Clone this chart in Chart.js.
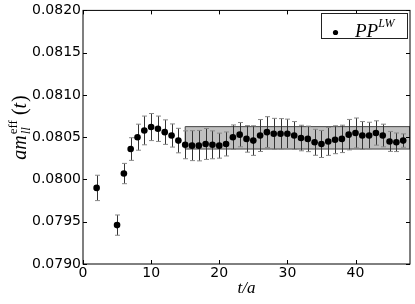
<!DOCTYPE html>
<html>
<head>
<meta charset="utf-8">
<script src="https://cdn.jsdelivr.net/npm/chart.js@4"></script>
<style>
  body { margin: 0; background: #fff; }
  #wrap { width: 415px; height: 304px; }
</style>
</head>
<body>
<div id="wrap"><canvas id="chart" width="415" height="304"></canvas></div>
<script>
// effective mass data
const ts = [2, 5, 6, 7, 8, 9, 10, 11, 12, 13, 14, 15, 16, 17, 18, 19, 20, 21, 22, 23, 24, 25,
  26, 27, 28, 29, 30, 31, 32, 33, 34, 35, 36, 37, 38, 39, 40, 41, 42, 43, 44, 45, 46, 47];
const mEff = [0.07990, 0.07946, 0.08007, 0.08036, 0.08050, 0.08058, 0.08062, 0.08060, 0.08056,
  0.08052, 0.08046, 0.08041, 0.08040, 0.08040, 0.08042, 0.08041, 0.08040, 0.08042, 0.08050,
  0.08053, 0.08048, 0.08046, 0.08052, 0.08056, 0.08054, 0.08054, 0.08054, 0.08052, 0.08049,
  0.08048, 0.08044, 0.08042, 0.08045, 0.08047, 0.08048, 0.08053, 0.08055, 0.08052, 0.08052,
  0.08055, 0.08052, 0.08045, 0.08044, 0.08046];
const mErr = [0.000150, 0.000120, 0.000120, 0.000134, 0.000154, 0.000170, 0.000160, 0.000150,
  0.000145, 0.000137, 0.000145, 0.000165, 0.000177, 0.000180, 0.000183, 0.000165, 0.000148,
  0.000142, 0.000145, 0.000144, 0.000157, 0.000175, 0.000189, 0.000183, 0.000183, 0.000180,
  0.000174, 0.000165, 0.000151, 0.000151, 0.000154, 0.000160, 0.000165, 0.000165, 0.000162,
  0.000180, 0.000177, 0.000165, 0.000157, 0.000144, 0.000134, 0.000118, 0.000110, 0.000079];

// fit band
const fitRange = [15, 48];
const fitLo = 0.08036;
const fitHi = 0.080625;

const xTicks = [0, 10, 20, 30, 40];
const yMin = 0.0790, yMax = 0.0820, yStep = 0.0005;

const points = ts.map((t, i) => ({ x: t, y: mEff[i] }));
const band = [
  { x: fitRange[0], y: fitLo }, { x: fitRange[0], y: fitHi },
  { x: fitRange[1], y: fitHi }, { x: fitRange[1], y: fitLo },
  { x: fitRange[0], y: fitLo }
];

const tickFont = { family: "DejaVu Sans", size: 14 };

// error bars, drawn right after the band so points sit on top
const errorBars = {
  id: "errorBars",
  afterDatasetDraw(chart, args) {
    if (args.index !== 0) return;
    const { ctx, scales: { x, y } } = chart;
    ctx.save();
    ctx.lineWidth = 1;
    ts.forEach((t, i) => {
      const px = Math.round(x.getPixelForValue(t)) + 0.5;
      const top = y.getPixelForValue(mEff[i] + mErr[i]);
      const bot = y.getPixelForValue(mEff[i] - mErr[i]);
      ctx.strokeStyle = "#333";
      ctx.beginPath();
      ctx.moveTo(px, top);
      ctx.lineTo(px, bot);
      ctx.stroke();
      ctx.strokeStyle = "#888";
      ctx.beginPath();
      ctx.moveTo(px - 2.5, top);
      ctx.lineTo(px + 2.5, top);
      ctx.moveTo(px - 2.5, bot);
      ctx.lineTo(px + 2.5, bot);
      ctx.stroke();
    });
    ctx.restore();
  }
};

// frame, inward ticks, axis labels and legend
const frame = {
  id: "frame",
  afterDraw(chart) {
    const { ctx, chartArea: a, scales: { x, y } } = chart;
    ctx.save();
    ctx.strokeStyle = "#000";
    ctx.lineWidth = 1;
    ctx.strokeRect(a.left, a.top, a.right - a.left, a.bottom - a.top);
    ctx.beginPath();
    x.ticks.forEach(tk => {
      const px = Math.round(x.getPixelForValue(tk.value)) + 0.5;
      ctx.moveTo(px, a.bottom); ctx.lineTo(px, a.bottom - 4);
      ctx.moveTo(px, a.top); ctx.lineTo(px, a.top + 4);
    });
    y.ticks.forEach(tk => {
      const py = Math.round(y.getPixelForValue(tk.value)) + 0.5;
      ctx.moveTo(a.left, py); ctx.lineTo(a.left + 4, py);
      ctx.moveTo(a.right, py); ctx.lineTo(a.right - 4, py);
    });
    ctx.stroke();

    ctx.fillStyle = "#000";
    // x label
    ctx.font = "italic 17px 'Liberation Serif'";
    ctx.textAlign = "center";
    ctx.textBaseline = "alphabetic";
    ctx.fillText("t/a", (a.left + a.right) / 2, 293);

    // y label: a m_{ll}^{eff}(t)
    ctx.save();
    ctx.translate(26, 128);
    ctx.rotate(-Math.PI / 2);
    ctx.textAlign = "left";
    const big = "italic 20px 'Liberation Serif'";
    const bigUp = "20px 'Liberation Serif'";
    const small = "italic 13px 'Liberation Serif'";
    const smallUp = "13px 'Liberation Serif'";
    ctx.font = big; const wAm = ctx.measureText("am").width;
    ctx.font = small; const wLl = ctx.measureText("ll").width;
    ctx.font = smallUp; const wEff = ctx.measureText("eff").width;
    ctx.font = bigUp; const wPar = ctx.measureText("(").width;
    ctx.font = big; const wT = ctx.measureText("t").width;
    const wSub = Math.max(wLl, wEff) + 5;
    const total = wAm + wSub + wPar * 2 + wT + 1;
    let cx = -total / 2;
    ctx.font = big; ctx.fillText("am", cx, 0); cx += wAm + 1;
    ctx.font = small; ctx.fillText("ll", cx, 4);
    ctx.font = smallUp; ctx.fillText("eff", cx, -9);
    cx += wSub;
    ctx.font = bigUp; ctx.fillText("(", cx, 0); cx += wPar;
    ctx.font = big; ctx.fillText("t", cx, 0); cx += wT + 1;
    ctx.font = bigUp; ctx.fillText(")", cx, 0);
    ctx.restore();

    // legend
    ctx.fillStyle = "#fff";
    ctx.fillRect(321.5, 13.5, 86, 25);
    ctx.strokeStyle = "#222";
    ctx.strokeRect(321.5, 13.5, 86, 25);
    ctx.fillStyle = "#000";
    ctx.beginPath();
    ctx.arc(335.5, 32.5, 2.6, 0, Math.PI * 2);
    ctx.fill();
    ctx.textAlign = "left";
    ctx.font = "italic 19px 'Liberation Serif'";
    ctx.fillText("PP", 355, 36.5);
    const wPP = ctx.measureText("PP").width;
    ctx.font = "italic 12px 'Liberation Serif'";
    ctx.fillText("LW", 355 + wPP, 27);
    ctx.restore();
  }
};

new Chart(document.getElementById("chart"), {
  type: "scatter",
  data: {
    datasets: [
      {
        type: "line",
        label: "fit",
        data: band,
        order: 2,
        showLine: true,
        fill: "shape",
        backgroundColor: "rgba(128,128,128,0.5)",
        borderColor: "#444",
        borderWidth: 1,
        pointRadius: 0,
        tension: 0
      },
      {
        label: "PP^LW",
        data: points,
        order: 1,
        pointRadius: 3.3,
        pointBackgroundColor: "#000",
        pointBorderWidth: 0,
        borderColor: "#000",
        showLine: false
      }
    ]
  },
  options: {
    responsive: false,
    animation: false,
    devicePixelRatio: 1,
    layout: { padding: { top: 10, right: 5, left: 0, bottom: 0 } },
    plugins: { legend: { display: false }, tooltip: { enabled: false } },
    scales: {
      x: {
        type: "linear",
        min: 0,
        max: 48,
        afterBuildTicks(scale) { scale.ticks = xTicks.map(v => ({ value: v })); },
        afterFit(scale) { scale.height = 40; },
        grid: { display: false, drawTicks: false },
        border: { display: false },
        ticks: { color: "#000", font: tickFont, padding: 1 }
      },
      y: {
        min: yMin,
        max: yMax,
        afterFit(scale) { scale.width = 83; },
        grid: { display: false, drawTicks: false },
        border: { display: false },
        ticks: {
          stepSize: yStep,
          color: "#000",
          font: tickFont,
          padding: 2,
          callback: v => v.toFixed(4)
        }
      }
    }
  },
  plugins: [errorBars, frame]
});
</script>
</body>
</html>
